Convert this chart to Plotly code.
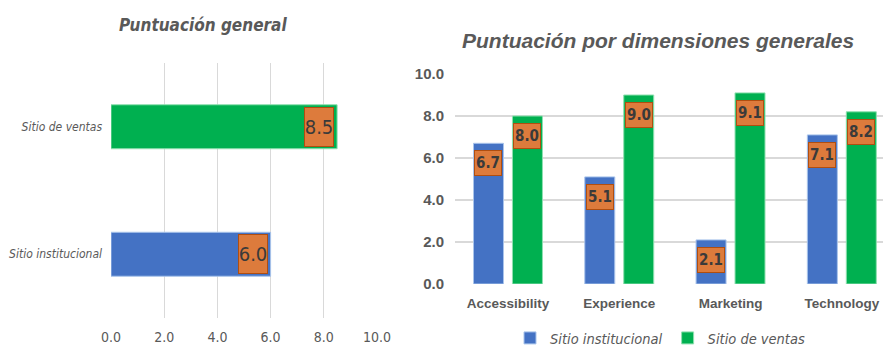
import plotly.graph_objects as go

# Overall score
overall_sites = ["Sitio institucional", "Sitio de ventas"]
overall_scores = [6.0, 8.5]

# Scores by dimension
dimensions = ["Accessibility", "Experience", "Marketing", "Technology"]
institucional = [6.7, 5.1, 2.1, 7.1]
ventas = [8.0, 9.0, 9.1, 8.2]

overall_ticks = [0, 2, 4, 6, 8, 10]
dim_ticks = [0, 2, 4, 6, 8, 10]

BLUE = "#4472C4"
GREEN = "#00B050"
GREY = "#595959"
GRID = "#D9D9D9"
BOX_BG = "#DD7B3C"
BOX_BORDER = "#B04E10"
NARROW = "DejaVu Sans Condensed, Liberation Sans, sans-serif"
SANS = "Liberation Sans, Arial, sans-serif"

fig = go.Figure()

# Left: horizontal bars
fig.add_trace(go.Bar(
    y=overall_sites, x=overall_scores, orientation="h", width=0.345,
    marker=dict(color=[BLUE, GREEN], line=dict(color=["#A9C4EB", "#8FE0B0"], width=1)),
    showlegend=False, xaxis="x", yaxis="y", hoverinfo="x+y",
))

# Right: grouped vertical bars
fig.add_trace(go.Bar(
    x=dimensions, y=institucional, name="Sitio institucional",
    marker=dict(color=BLUE, line=dict(color="#A9C4EB", width=1)),
    xaxis="x2", yaxis="y2",
))
fig.add_trace(go.Bar(
    x=dimensions, y=ventas, name="Sitio de ventas",
    marker=dict(color=GREEN, line=dict(color="#8FE0B0", width=1)),
    xaxis="x2", yaxis="y2",
))

annotations = []

# Value boxes for the overall chart
for site, val in zip(overall_sites, overall_scores):
    annotations.append(dict(
        x=val, y=site, xref="x", yref="y", text=f"{val:.1f}",
        xanchor="right", yanchor="middle", xshift=-3, showarrow=False,
        font=dict(family=NARROW, size=20, color="#3A3A3A"),
        bgcolor=BOX_BG, bordercolor=BOX_BORDER, borderwidth=1,
        width=28, height=38, borderpad=0,
    ))

# Value boxes for the dimension chart
for series, shift in ((institucional, -19.5), (ventas, 19.5)):
    for dim, val in zip(dimensions, series):
        annotations.append(dict(
            x=dim, y=val, xref="x2", yref="y2", text=f"<b>{val:.1f}</b>",
            xanchor="center", yanchor="top", xshift=shift, yshift=-7,
            showarrow=False,
            font=dict(family=NARROW, size=15, color="#3A3A3A"),
            bgcolor=BOX_BG, bordercolor=BOX_BORDER, borderwidth=1,
            width=26, height=24, borderpad=0,
        ))

# Titles
annotations.append(dict(
    x=203 / 883, y=1 - 25 / 347, xref="paper", yref="paper",
    text="<b><i>Puntuación general</i></b>", showarrow=False,
    xanchor="center", yanchor="middle",
    font=dict(family=NARROW, size=17, color=GREY),
))
annotations.append(dict(
    x=658 / 883, y=1 - 40 / 347, xref="paper", yref="paper",
    text="<b><i>Puntuación por dimensiones generales</i></b>", showarrow=False,
    xanchor="center", yanchor="middle",
    font=dict(family=SANS, size=21, color=GREY),
))

fig.update_layout(
    width=883, height=347,
    margin=dict(l=0, r=0, t=0, b=0, autoexpand=False),
    paper_bgcolor="white", plot_bgcolor="white",
    barmode="group", bargap=0.3, bargroupgap=0.23,
    annotations=annotations,
    xaxis=dict(
        domain=[111 / 883, 377 / 883], range=[0, 10],
        tickvals=overall_ticks, ticktext=[f"{t:.1f}" for t in overall_ticks],
        showgrid=True, gridcolor=GRID, gridwidth=1, zeroline=False,
        showline=False, ticks="", ticklabelstandoff=9, automargin=False,
        tickfont=dict(family=NARROW, size=14, color=GREY),
        anchor="y",
    ),
    yaxis=dict(
        domain=[1 - 318 / 347, 1 - 63 / 347],
        categoryorder="array", categoryarray=overall_sites,
        showgrid=False, zeroline=False, showline=False, ticks="",
        ticklabelstandoff=8, automargin=False,
        tickfont=dict(family=NARROW, size=12, color=GREY, style="italic"),
        anchor="x",
    ),
    xaxis2=dict(
        domain=[455 / 883, 1.0], range=[-0.476, 3.37],
        showgrid=False, zeroline=False, showline=False, ticks="",
        ticklabelstandoff=9, automargin=False,
        tickfont=dict(family=SANS, size=13.5, color=GREY, weight="bold"),
        anchor="y2",
    ),
    yaxis2=dict(
        domain=[1 - 284 / 347, 1 - 74 / 347], range=[0, 10],
        tickvals=dim_ticks, ticktext=[f"{t:.1f}" for t in dim_ticks],
        showgrid=True, gridcolor=GRID, gridwidth=1.5, zeroline=False,
        showline=False, ticks="", ticklabelstandoff=10, automargin=False,
        tickfont=dict(family=SANS, size=15, color=GREY, weight="bold"),
        anchor="x2",
    ),
    legend=dict(
        orientation="h", x=660 / 883, y=1 - 338 / 347,
        xanchor="center", yanchor="middle",
        font=dict(family=NARROW, size=14.5, color=GREY, style="italic"),
        itemwidth=30, bgcolor="rgba(0,0,0,0)",
    ),
)

fig.write_html("out.html")
